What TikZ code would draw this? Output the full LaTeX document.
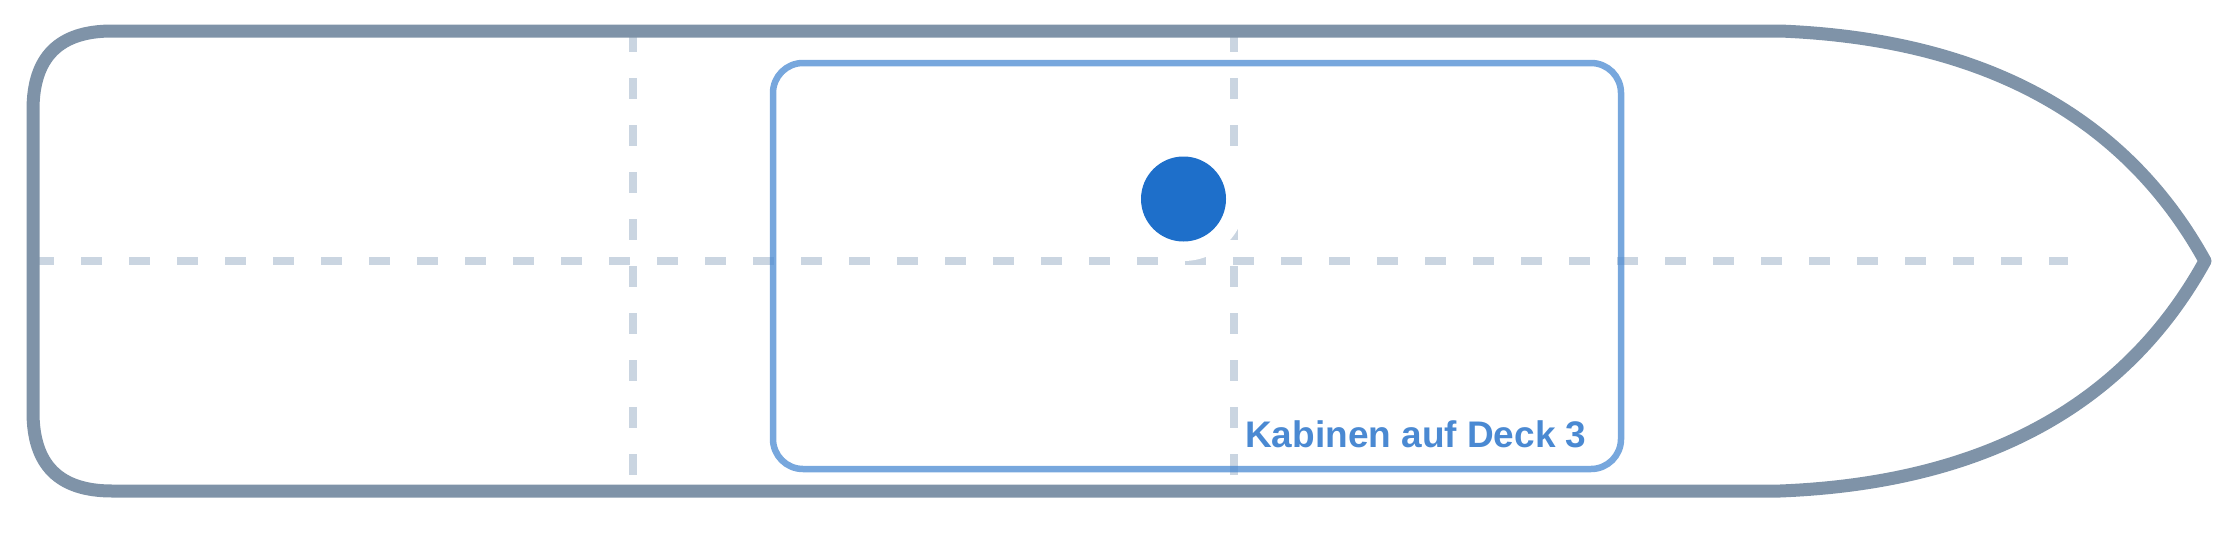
\documentclass[tikz,border=0pt]{standalone}
\usepackage{fontspec}
\setmainfont{Liberation Sans}
\definecolor{hullgray}{RGB}{127,147,168}
\definecolor{gridgray}{RGB}{202,213,225}
\definecolor{deckblue}{RGB}{74,137,210}
\definecolor{dotblue}{RGB}{30,111,202}

\begin{document}
\begin{tikzpicture}[x=1pt,y=-1pt,
    hull/.style={draw=hullgray,line width=13pt,line join=round},
    midline/.style={draw=gridgray,line width=8pt,dash pattern=on 21pt off 27pt},
    frameline/.style={draw=gridgray,line width=8pt,dash pattern=on 21pt off 26pt},
    room/.style={draw=deckblue,draw opacity=0.75,line width=6.5pt,rounded corners=30pt},
    tag/.style={text=deckblue,inner sep=0pt,anchor=base west,font=\fontsize{37pt}{44pt}\selectfont\bfseries}]
  \useasboundingbox (0,0) rectangle (2240,533);
  \draw[midline] (33,261) -- (2068,261);
  \draw[frameline] (633,31) -- (633,491);
  \draw[frameline] (1234,31) -- (1234,491);
  \coordinate (guest) at (1183.5,199);
  \fill[white] (guest) circle (62pt);
  \draw[room] (773,63) rectangle (1621,469);
  \fill[dotblue] (guest) circle (42.5pt);
  \node[tag] (deck) at (1245,447) {Kabinen auf Deck 3};
  \draw[hull] (112,31) -- (1780,31)
    .. controls (1983,39) and (2125,116) .. (2205,261)
    .. controls (2125,406) and (1983,483) .. (1780,491)
    -- (112,491) .. controls (59,491) and (33,465) .. (33,412)
    -- (33,110) .. controls (33,57) and (59,31) .. (112,31) -- cycle;
\end{tikzpicture}
\end{document}
